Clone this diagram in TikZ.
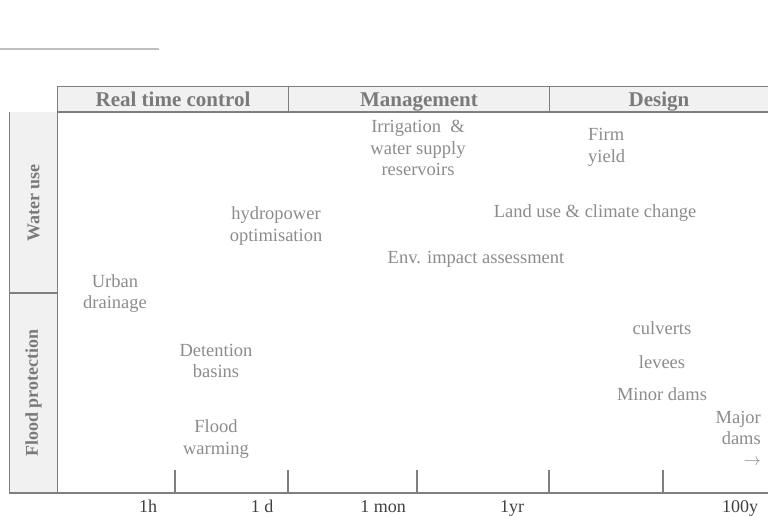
\documentclass[tikz,border=0pt]{standalone}
\usepackage{fontspec}
\setmainfont{Liberation Serif}
\definecolor{boxfill}{HTML}{F1F1F1}
\definecolor{rulegray}{HTML}{7F7F7F}
\definecolor{txtgray}{HTML}{8C8C8C}
\definecolor{hdrgray}{HTML}{7A7A7A}
\definecolor{axgray}{HTML}{404040}
\definecolor{topline}{HTML}{BFBFBF}
\begin{document}
\begin{tikzpicture}[x=1pt,y=-1pt,
  item/.style={text=txtgray,inner sep=0pt,align=center,font=\fontsize{18.5}{21.3}\selectfont},
  hdr/.style={text=hdrgray,inner sep=0pt,anchor=base,font=\fontsize{21}{24}\selectfont\bfseries},
  side/.style={text=hdrgray,inner sep=0pt,rotate=90,font=\fontsize{18}{21}\selectfont\bfseries},
  axlab/.style={text=axgray,inner sep=0pt,anchor=base,font=\fontsize{18}{21}\selectfont},
  thin rule/.style={draw=rulegray,line width=1pt},
  thick rule/.style={draw=rulegray,line width=2pt}]
\useasboundingbox (0,0) rectangle (768,518);
% top decorative line
\coordinate (tl0) at (0,49);
\coordinate (tl1) at (159,49);
\draw[topline,line width=1.6pt] (tl0) -- (tl1);
% header band
\fill[boxfill] (57,87) rectangle (768,112);
\draw[thin rule] (768,87) -- (57,87) -- (57,112);
\draw[thin rule] (288,87) -- (288,112);
\draw[thin rule] (549,87) -- (549,112);
\draw[thick rule] (57,112) -- (768,112);
\node[hdr] (h1) at (173,107) {Real time control};
\node[hdr] (h2) at (419,107) {Management};
\node[hdr] (h3) at (659,107) {Design};
% side column
\fill[boxfill] (9,112) rectangle (57,493);
\draw[thin rule] (9,112) -- (9,493);
\draw[thin rule] (57,112) -- (57,493);
\draw[thick rule] (9,293) -- (57,293);
\node[side] (s1) at (33.5,203) {Water use};
\node[side] (s2) at (33.5,393) {Flood protection};
% axis
\draw[thick rule] (9,493) -- (768,493);
\foreach \x/\n in {175/t1,288/t2,417/t3,549/t4,663/t5}{
  \coordinate (\n a) at (\x,470);
  \coordinate (\n b) at (\x,493);
  \draw[rulegray,line width=1.6pt] (\n a) -- (\n b);
}
\node[axlab] (a1) at (148,512) {1h};
\node[axlab] (a2) at (262,512) {1 d};
\node[axlab] (a3) at (383,512) {1 mon};
\node[axlab] (a4) at (512,512) {1yr};
\node[axlab] (a5) at (740,512) {100y};
% items
\node[item] (irr) at (418,148) {Irrigation \ \&\\water supply\\reservoirs};
\node[item,align=left,anchor=west] (firm) at (588,147.5) {Firm\\yield};
\node[item] (hyd) at (276,226) {hydropower\\optimisation};
\node[item] (land) at (595,213) {Land use \& climate change};
\node[item] (env) at (476,259) {Env. impact assessment};
\node[item] (urb) at (115,293.5) {Urban\\drainage};
\node[item] (det) at (216,361) {Detention\\basins};
\node[item] (flw) at (216,439) {Flood\\warming};
\node[item] (cul) at (662,328) {culverts};
\node[item] (lev) at (662,362) {levees};
\node[item] (min) at (662,394) {Minor dams};
\node[item,align=right,anchor=east] (maj) at (761,438.5) {Major\\dams\\$\rightarrow$};
\end{tikzpicture}
\end{document}
